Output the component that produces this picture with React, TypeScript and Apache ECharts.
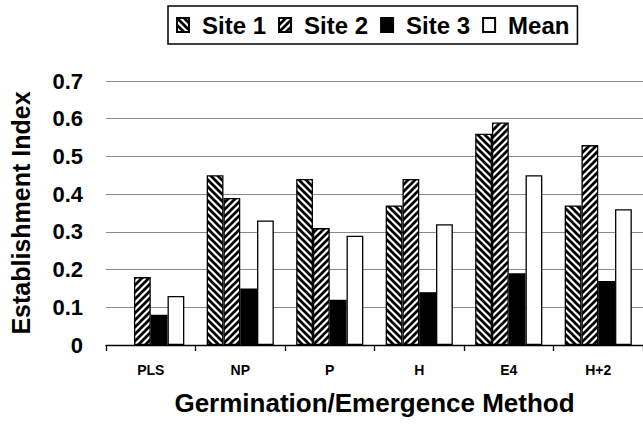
import React, { useEffect, useRef } from "react";
import * as echarts from "echarts";

const categories = ["PLS", "NP", "P", "H", "E4", "H+2"];
const site1 = [null, 0.45, 0.44, 0.37, 0.56, 0.37];
const site2 = [0.18, 0.39, 0.31, 0.44, 0.59, 0.53];
const site3 = [0.08, 0.15, 0.12, 0.14, 0.19, 0.17];
const meanValues = [0.13, 0.33, 0.29, 0.32, 0.45, 0.36];
const seriesNames = ["Site 1", "Site 2", "Site 3", "Mean"];

const FONT = "'Liberation Sans', Arial, sans-serif";

function makeHatch(dir: "back" | "fwd") {
  const s = 7;
  const c = document.createElement("canvas");
  c.width = s;
  c.height = s;
  const ctx = c.getContext("2d")!;
  ctx.fillStyle = "#fff";
  ctx.fillRect(0, 0, s, s);
  ctx.strokeStyle = "#000";
  ctx.lineWidth = 2.7;
  for (let k = -1; k <= 1; k++) {
    ctx.beginPath();
    if (dir === "back") {
      ctx.moveTo(k * s - 1, -1);
      ctx.lineTo(k * s + s + 1, s + 1);
    } else {
      ctx.moveTo(k * s - 1, s + 1);
      ctx.lineTo(k * s + s + 1, -1);
    }
    ctx.stroke();
  }
  return c;
}

export default function App() {
  const ref = useRef<HTMLDivElement>(null);
  useEffect(() => {
    document.body.style.margin = "0";
    const chart = echarts.init(ref.current!, undefined, { renderer: "svg" });
    const back = makeHatch("back");
    const fwd = makeHatch("fwd");
    const border = { borderColor: "#000", borderWidth: 1.3 };
    const colors: any[] = [
      { image: back, repeat: "repeat" },
      { image: fwd, repeat: "repeat" },
      "#000",
      "#fff",
    ];
    const datas = [site1, site2, site3, meanValues];
    chart.setOption({
      animation: false,
      backgroundColor: "#fff",
      textStyle: { fontFamily: FONT },
      legend: {
        data: seriesNames,
        left: 168,
        top: 6,
        icon: "rect",
        itemWidth: 12,
        itemHeight: 14,
        itemGap: 12,
        padding: [7, 8, 7, 8],
        borderColor: "#000",
        borderWidth: 1.5,
        textStyle: {
          fontSize: 24,
          fontWeight: "bold",
          color: "#000",
          fontFamily: FONT,
          padding: [2, 0, 0, 8],
        },
      },
      grid: { left: 106, top: 81, width: 538, bottom: 80, containLabel: false },
      xAxis: {
        type: "category",
        data: categories,
        name: "Germination/Emergence Method",
        nameLocation: "middle",
        nameGap: 45,
        nameTextStyle: { fontSize: 26, fontWeight: "bold", color: "#000", fontFamily: FONT },
        axisLine: { lineStyle: { color: "#000", width: 1.3 } },
        axisTick: { show: true, length: 6, lineStyle: { color: "#000", width: 1.3 } },
        axisLabel: { fontSize: 14, fontWeight: "bold", color: "#000", margin: 18, fontFamily: FONT },
      },
      yAxis: {
        type: "value",
        min: 0,
        max: 0.7,
        interval: 0.1,
        name: "Establishment Index",
        nameLocation: "middle",
        nameGap: 73,
        nameTextStyle: { fontSize: 25, fontWeight: "bold", color: "#000", fontFamily: FONT },
        axisLine: { show: false },
        axisTick: { show: false },
        axisLabel: { fontSize: 22, fontWeight: "bold", color: "#000", margin: 23, fontFamily: FONT },
        splitLine: { lineStyle: { color: "#8a8a8a", width: 1.2 } },
      },
      series: seriesNames.map((name, i) => ({
        name,
        type: "bar",
        data: datas[i],
        barGap: "0%",
        barCategoryGap: "25%",
        itemStyle: { color: colors[i], ...border },
      })),
    });
    return () => chart.dispose();
  }, []);
  return (
    <div
      ref={ref}
      style={{ position: "absolute", left: 0, top: 0, width: 643, height: 425 }}
    />
  );
}
